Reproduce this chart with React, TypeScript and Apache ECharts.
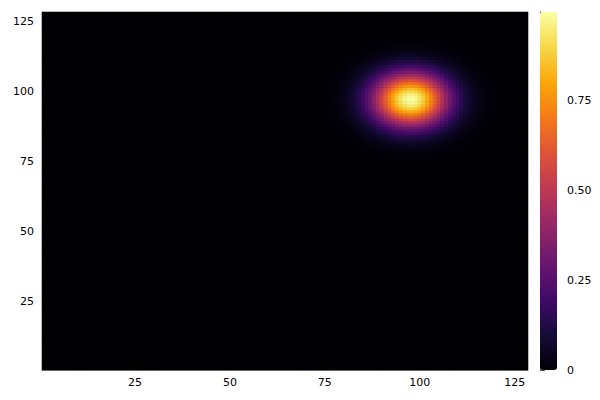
import React, { useEffect, useRef } from "react";
import * as echarts from "echarts";

// grid size (cells 1..128 on both axes)
const gridSize = 128;
const xCategories: string[] = Array.from({ length: gridSize }, (_, i) => String(i + 1));
const yCategories: string[] = Array.from({ length: gridSize }, (_, i) => String(i + 1));

// column profile of the blob (x = 74 .. 121)
const colStart = 74;
const colProfile = [
  0.003, 0.005, 0.007, 0.012,
  0.018, 0.026, 0.039, 0.055, 0.078, 0.107, 0.143, 0.189, 0.243, 0.307,
  0.380, 0.460, 0.545, 0.633, 0.719, 0.801, 0.873, 0.932, 0.974, 0.996,
  0.998, 0.980, 0.941, 0.886, 0.816, 0.736, 0.650, 0.563, 0.477, 0.395,
  0.321, 0.255, 0.199, 0.152, 0.113, 0.083, 0.059, 0.042, 0.029, 0.019,
  0.013, 0.008, 0.005, 0.003,
];
// row profile of the blob (y = 74 .. 121)
const rowStart = 74;
const rowProfile = [
  0.003, 0.004, 0.007, 0.011,
  0.017, 0.025, 0.037, 0.054, 0.076, 0.106, 0.144, 0.191, 0.247, 0.314,
  0.390, 0.473, 0.561, 0.652, 0.740, 0.822, 0.892, 0.948, 0.984, 1.000,
  0.993, 0.965, 0.916, 0.851, 0.774, 0.688, 0.598, 0.508, 0.422, 0.343,
  0.273, 0.212, 0.161, 0.120, 0.087, 0.062, 0.043, 0.029, 0.020, 0.013,
  0.008, 0.005, 0.003, 0.002,
];

const axisTickLabels = ["25", "50", "75", "100", "125"];
const colorbarTicks = [0, 0.25, 0.5, 0.75];

const inferno = [
  "#000004", "#160b39", "#420a68", "#6a176e", "#932667", "#bc3754",
  "#dd513a", "#f37819", "#fca50a", "#f6d746", "#fcffa4",
];

function buildData() {
  const data: [number, number, number][] = [];
  let max = 0;
  for (let i = 0; i < gridSize; i++) {
    const cx = colProfile[i + 1 - colStart] ?? 0;
    for (let j = 0; j < gridSize; j++) {
      const ry = rowProfile[j + 1 - rowStart] ?? 0;
      const v = cx * ry;
      if (v > max) max = v;
      data.push([i, j, v]);
    }
  }
  return { data, max };
}

export default function App() {
  const ref = useRef<HTMLDivElement>(null);
  useEffect(() => {
    if (!ref.current) return;
    const chart = echarts.init(ref.current, null, { renderer: "svg" });
    const { data, max } = buildData();
    const labelStyle = {
      color: "#000",
      fontSize: 11,
      fontFamily: "DejaVu Sans",
    };
    chart.setOption({
      animation: false,
      backgroundColor: "#fff",
      grid: [
        { left: 42, top: 12, width: 486, height: 358, show: true, backgroundColor: "#000004", borderWidth: 0 },
        { left: 540, top: 12, width: 17, height: 358, show: false },
      ],
      xAxis: [
        {
          type: "category",
          gridIndex: 0,
          data: xCategories,
          boundaryGap: true,
          axisLine: { show: true, lineStyle: { color: "#8c8c8c", width: 1 } },
          axisTick: {
            show: true,
            inside: true,
            length: 4,
            alignWithLabel: true,
            interval: (_i: number, v: string) => axisTickLabels.includes(v),
            lineStyle: { color: "#555" },
          },
          axisLabel: {
            ...labelStyle,
            margin: 7,
            interval: (_i: number, v: string) => axisTickLabels.includes(v),
          },
          splitLine: { show: false },
        },
        { type: "value", gridIndex: 1, show: false, min: 0, max: 1 },
      ],
      yAxis: [
        {
          type: "category",
          gridIndex: 0,
          data: yCategories,
          boundaryGap: true,
          axisLine: { show: true, lineStyle: { color: "#8c8c8c", width: 1 } },
          axisTick: {
            show: true,
            inside: true,
            length: 4,
            alignWithLabel: true,
            interval: (_i: number, v: string) => axisTickLabels.includes(v),
            lineStyle: { color: "#555" },
          },
          axisLabel: {
            ...labelStyle,
            margin: 8,
            interval: (_i: number, v: string) => axisTickLabels.includes(v),
          },
          splitLine: { show: false },
        },
        {
          type: "value",
          gridIndex: 1,
          position: "right",
          min: 0,
          max: max,
          axisLine: { show: true, lineStyle: { color: "#555", width: 1 } },
          axisTick: {
            show: true,
            inside: false,
            length: 5,
            customValues: colorbarTicks,
            lineStyle: { color: "#555" },
          },
          axisLabel: {
            ...labelStyle,
            margin: 10,
            customValues: colorbarTicks,
            formatter: (v: number) => (v === 0 ? "0" : v.toFixed(2)),
          },
          splitLine: { show: false },
        },
      ],
      visualMap: {
        type: "continuous",
        seriesIndex: 0,
        dimension: 2,
        min: 0,
        max: max,
        calculable: false,
        orient: "vertical",
        left: 540,
        top: 12,
        itemWidth: 17,
        itemHeight: 358,
        padding: 0,
        showLabel: false,
        inRange: { color: inferno },
        hoverLink: false,
      },
      series: [
        {
          type: "heatmap",
          xAxisIndex: 0,
          yAxisIndex: 0,
          data,
          progressive: 0,
          itemStyle: { borderWidth: 0 },
          emphasis: { disabled: true },
          silent: true,
        },
      ],
    });
    return () => chart.dispose();
  }, []);
  return (
    <div
      ref={ref}
      style={{ position: "fixed", left: 0, top: 0, width: 600, height: 400 }}
    />
  );
}
